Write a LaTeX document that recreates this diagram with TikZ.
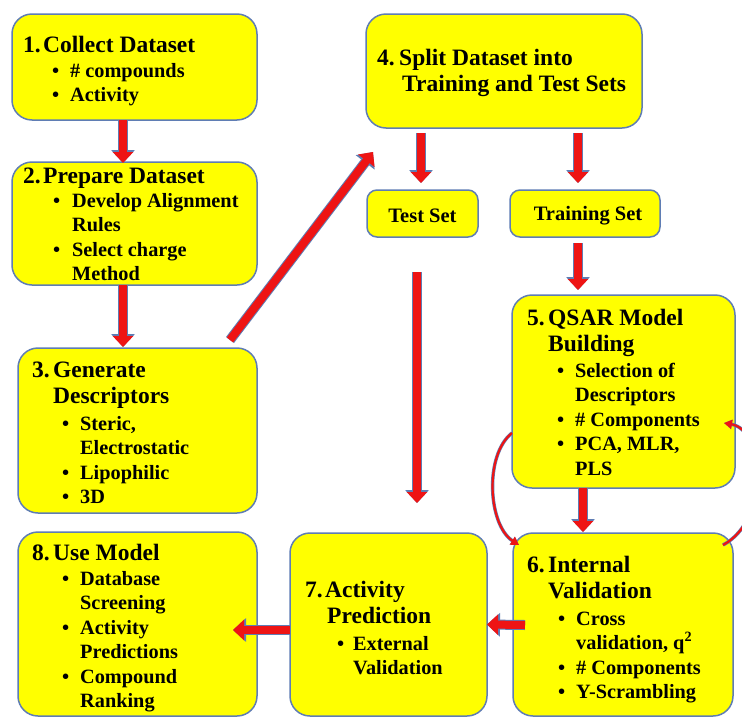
\documentclass[tikz,border=0pt]{standalone}
\usepackage{fontspec}
\setmainfont{Liberation Serif}
\usetikzlibrary{arrows.meta}
\definecolor{boxyellow}{RGB}{255,255,0}
\definecolor{edgeblue}{RGB}{95,125,180}
\definecolor{arrowred}{RGB}{238,20,20}
\newlength\mybw
\newcommand\myb[1]{\makebox[\mybw][l]{•}#1}
\newcommand\myc[1]{\hspace*{\mybw}#1}
\newcommand\rows[1]{\begin{tabular}[t]{@{}l@{}}#1\end{tabular}}
\tikzset{
  box/.style={draw=edgeblue, line width=1.5pt, fill=boxyellow, rounded corners=20pt, inner sep=0pt, outer sep=0pt},
  smallbox/.style={box, rounded corners=10pt},
  titletext/.style={anchor=base west, inner sep=0pt, font=\fontsize{23.5}{26}\selectfont\bfseries},
  bullettext/.style={anchor=base west, inner sep=0pt, font=\fontsize{20.3}{24.5}\selectfont\bfseries},
  settext/.style={inner sep=0pt, font=\fontsize{20.5}{22}\selectfont\bfseries},
  barrow/.style={draw=arrowred, line width=8pt, -{Triangle[width=20pt,length=11pt]},
    preaction={draw=edgeblue, line width=10pt, -{Triangle[width=23pt,length=13pt]}}},
  looparrow/.style={draw=arrowred, line width=2.2pt, -{Triangle[width=9pt,length=8pt]},
    preaction={draw=edgeblue, line width=3.4pt}}
}
\begin{document}
\begin{tikzpicture}[x=1pt, y=-1pt]
\useasboundingbox (0,0) rectangle (742,718);
\fill[white] (0,0) rectangle (742,718);

% boxes
\node[box, minimum width=245pt, minimum height=106pt] (b1) at (134.5,67) {};
\node[box, minimum width=245pt, minimum height=123pt] (b2) at (134.5,223.5) {};
\node[box, minimum width=239pt, minimum height=165pt] (b3) at (137.5,430.5) {};
\node[box, minimum width=276pt, minimum height=114pt] (b4) at (504,71) {};
\node[smallbox, minimum width=111pt, minimum height=47pt] (test) at (422.5,213.5) {};
\node[smallbox, minimum width=150pt, minimum height=47pt] (train) at (585,213.5) {};
\node[box, minimum width=223pt, minimum height=193pt] (b5) at (623.5,391.5) {};
\node[box, minimum width=220pt, minimum height=183pt] (b6) at (623,624.5) {};
\node[box, minimum width=197pt, minimum height=183pt] (b7) at (388.5,624.5) {};
\node[box, minimum width=239pt, minimum height=184pt] (b8) at (137.5,624) {};

% free ends
\coordinate (diagtip) at (373,152);
\coordinate (testtip) at (417,503);

% block arrows
\draw[barrow] ([shift={(-11.5,0)}]b1.south) -- ([shift={(-11.5,1)}]b2.north);
\draw[barrow] ([shift={(-11.5,0)}]b2.south) -- ([shift={(-14.5,-1)}]b3.north);
\draw[barrow] ([shift={(-27,-8)}]b3.north east) -- (diagtip);
\draw[barrow] ([shift={(-83,5)}]b4.south) -- ([shift={(-1.5,-7)}]test.north);
\draw[barrow] ([shift={(74,5)}]b4.south) -- ([shift={(-7,-7)}]train.north);
\draw[barrow] ([shift={(-7,6)}]train.south) -- ([shift={(-45.5,-5)}]b5.north);
\draw[barrow] ([shift={(-5.5,35)}]test.south) -- (testtip);
\draw[barrow] ([shift={(-40.5,0)}]b5.south) -- ([shift={(-40,-1)}]b6.north);
\draw[barrow] ([shift={(12,0.5)}]b6.west) -- (b7.east);
\draw[barrow] ([shift={(0,5.5)}]b7.west) -- ([shift={(-24,6)}]b8.east);

% loop arrows
\draw[looparrow] ([shift={(0,41.5)}]b5.west) .. controls (484,455) and (488,525) .. ([shift={(6,12)}]b6.north west);
\draw[looparrow] ([shift={(-10,12)}]b6.north east) .. controls (770,520) and (765,430) .. ([shift={(-11,31.5)}]b5.east);

% texts
\node[titletext] (t1) at (23,52) {\rows{\makebox[20pt][l]{1.}Collect Dataset}};
\node[bullettext] (l1) at (52,77) {\setlength\mybw{18pt}\rows{\myb{\# compounds}\\ \myb{Activity}}};

\node[titletext] (t2) at (23,183) {\rows{\makebox[20pt][l]{2.}Prepare Dataset}};
\node[bullettext] (l2) at (53,207) {\setlength\mybw{19pt}\rows{\myb{Develop Alignment}\\ \myc{Rules}\\ \myb{Select charge}\\ \myc{Method}}};

\node[titletext] (t3) at (32,377) {\rows{\makebox[21pt][l]{3.}Generate\\ \hspace*{21pt}Descriptors}};
\node[bullettext] (l3) at (62,430) {\setlength\mybw{18pt}\rows{\myb{Steric,}\\ \myc{Electrostatic}\\ \myb{Lipophilic}\\ \myb{3D}}};

\node[titletext] (t4) at (377,65) {\rows{\makebox[22pt][l]{4.}Split Dataset into\\ \hspace*{25pt}Training and Test Sets}};

\node[settext] (tt) at ([shift={(0,2)}]test.center) {Test Set};
\node[settext] (tr) at ([shift={(3,2)}]train.center) {Training Set};

\node[titletext] (t5) at (527,325) {\rows{\makebox[21pt][l]{5.}QSAR Model\\ \hspace*{21pt}Building}};
\node[bullettext] (l5) at (557,377) {\setlength\mybw{18pt}\rows{\myb{Selection of}\\ \myc{Descriptors}\\ \myb{\# Components}\\ \myb{PCA, MLR,}\\ \myc{PLS}}};

\node[titletext] (t6) at (527,572) {\rows{\makebox[21pt][l]{6.}Internal\\ \hspace*{21pt}Validation}};
\node[bullettext] (l6) at (558,625) {\setlength\mybw{18pt}\rows{\myb{Cross}\\ \myc{validation, q\textsuperscript{2}}\\ \myb{\# Components}\\ \myb{Y-Scrambling}}};

\node[titletext] (t7) at (305,597) {\rows{\makebox[20pt][l]{7.}Activity\\ \hspace*{22pt}Prediction}};
\node[bullettext] (l7) at (337,650) {\setlength\mybw{16pt}\rows{\myb{External}\\ \myc{Validation}}};

\node[titletext] (t8) at (32,560) {\rows{\makebox[21pt][l]{8.}Use Model}};
\node[bullettext] (l8) at (62,585) {\setlength\mybw{18pt}\rows{\myb{Database}\\ \myc{Screening}\\ \myb{Activity}\\ \myc{Predictions}\\ \myb{Compound}\\ \myc{Ranking}}};
\end{tikzpicture}
\end{document}
